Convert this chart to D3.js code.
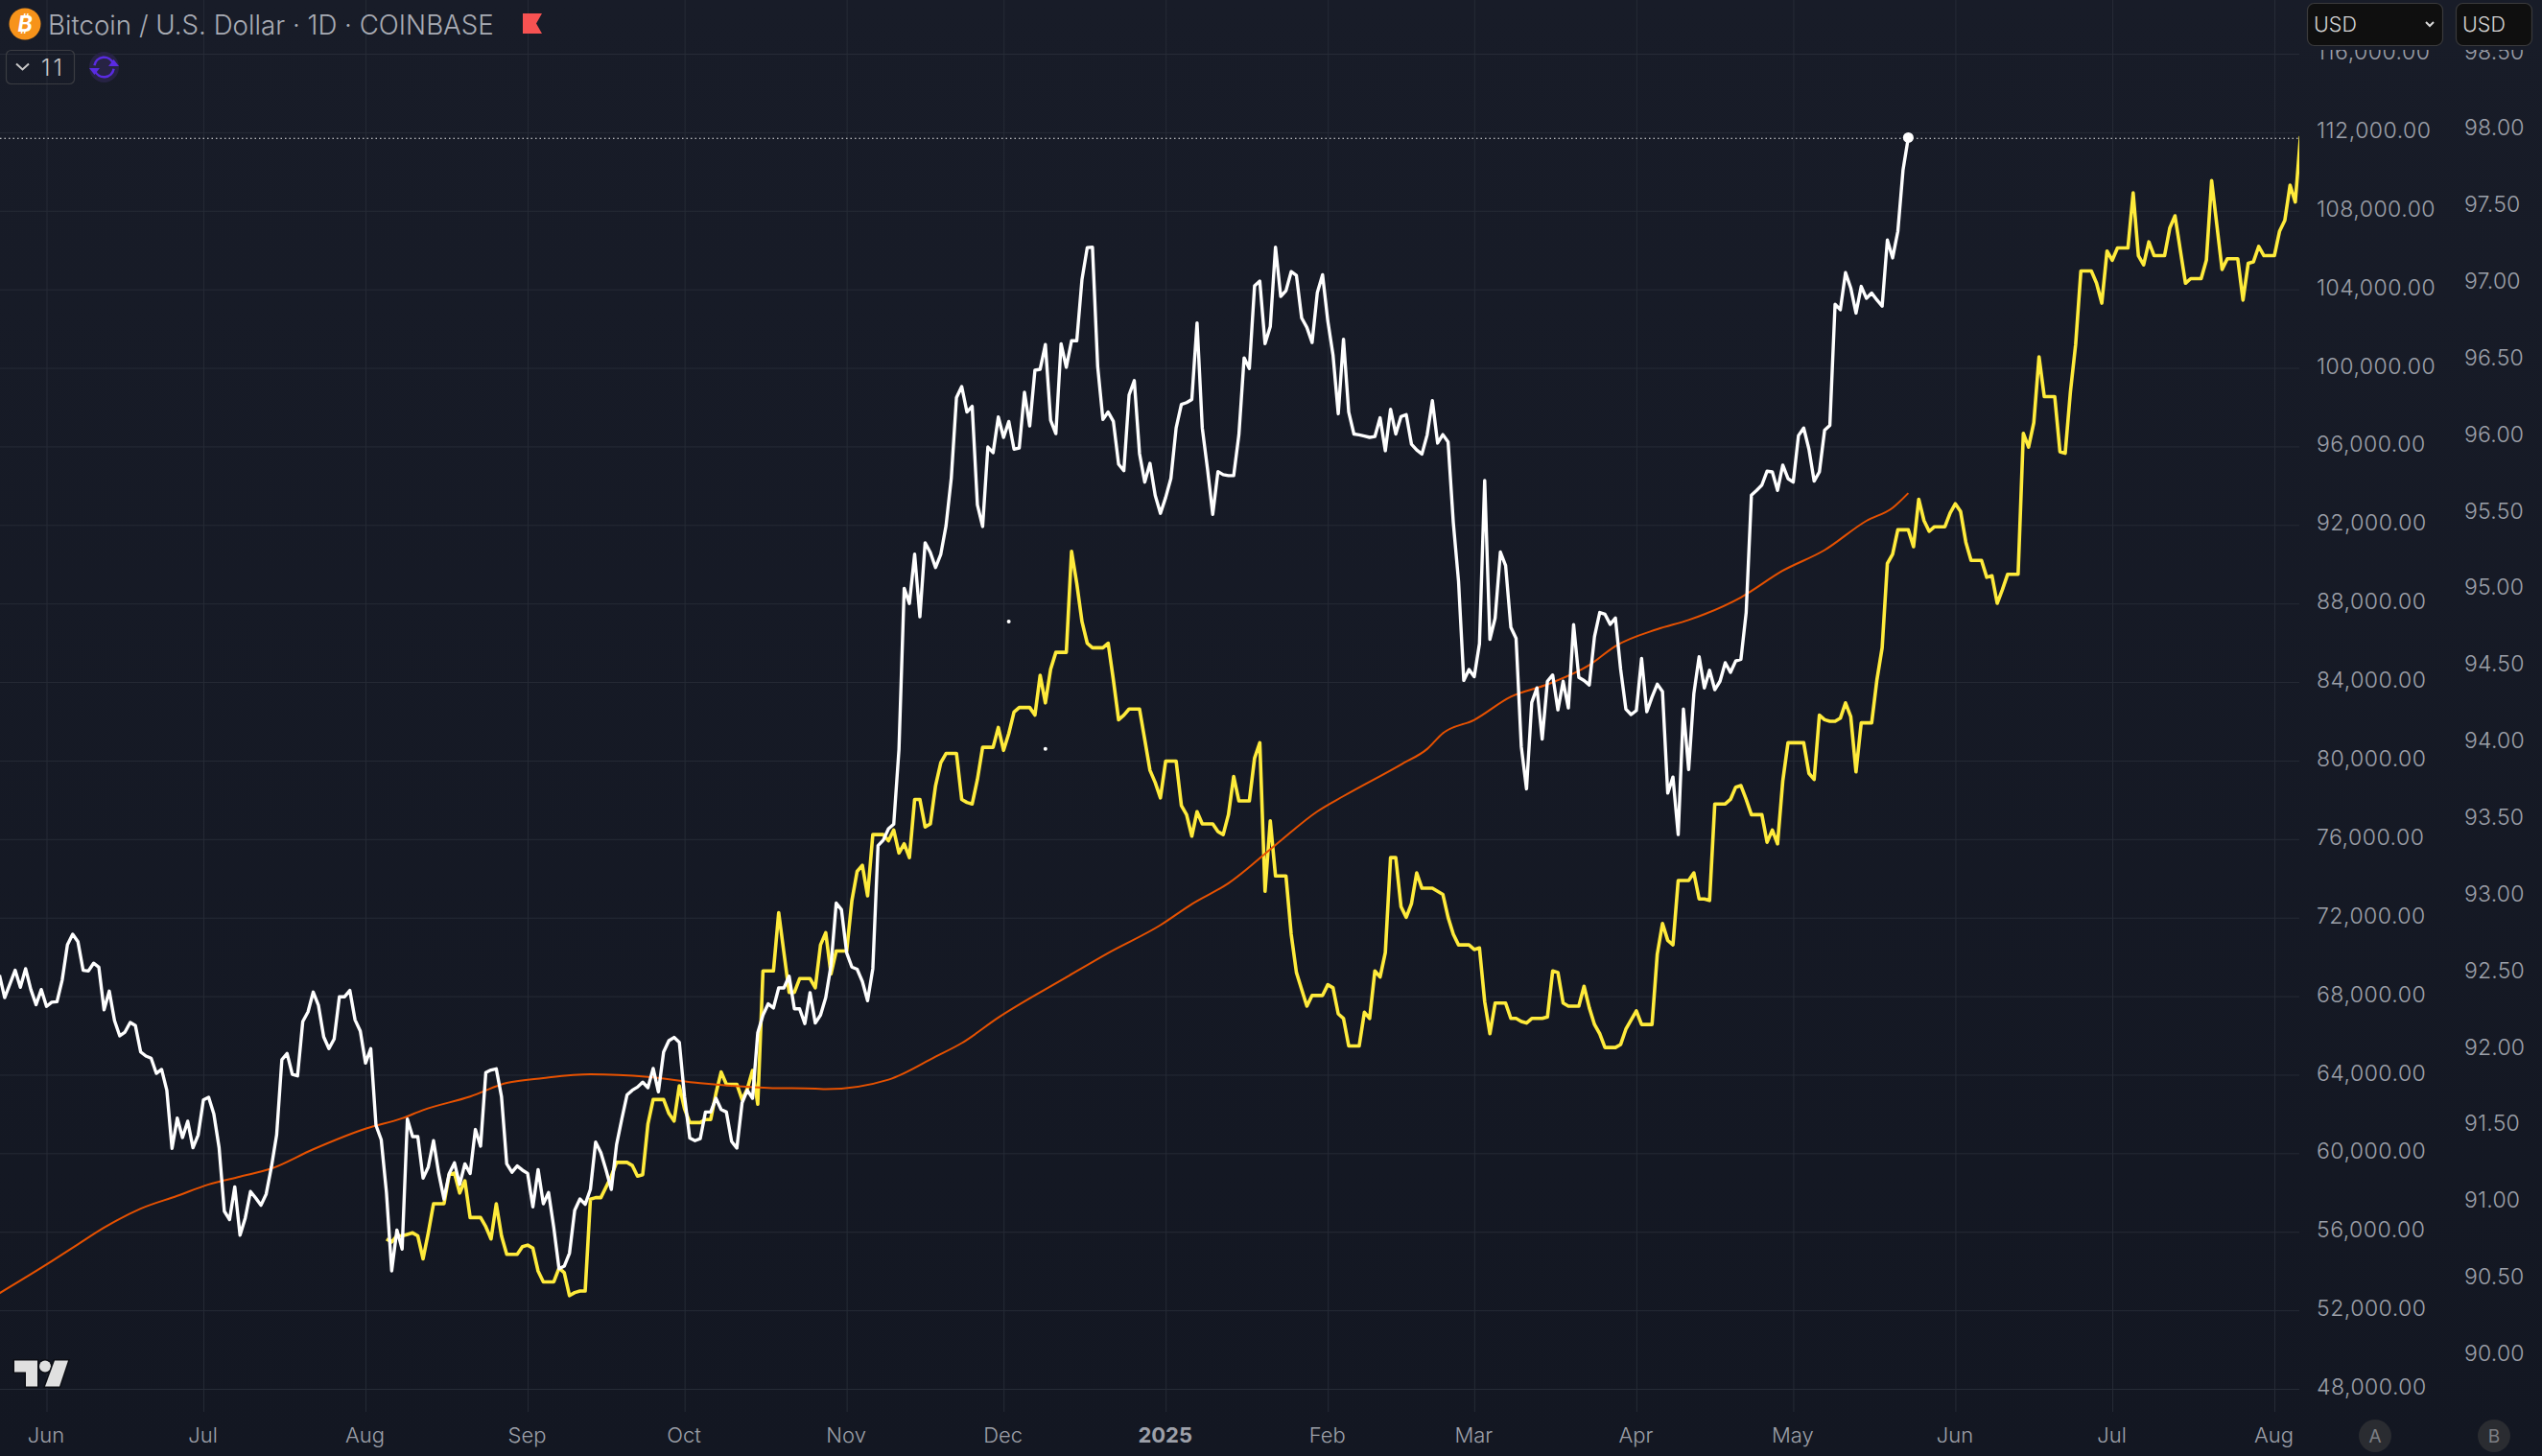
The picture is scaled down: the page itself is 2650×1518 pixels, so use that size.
<!DOCTYPE html>
<html>
<head>
<meta charset="utf-8">
<script src="https://cdn.jsdelivr.net/npm/d3@7"></script>
<style>
  html, body { margin: 0; padding: 0; background: #131722; }
  svg { display: block; }
  text { font-family: Inter, "Noto Sans", sans-serif; }
</style>
</head>
<body>
<div id="chart"></div>
<script>
// Data
//-------------------------------------------------------
// BTC daily close, in thousands of USD, in runs of consecutive days
var btcStarts = ["2024-05-23", "2024-10-27", "2024-11-11", "2025-02-23", "2025-05-11"];
var btcRunA = [69.07,67.93,68.62,69.32,68.45,69.40,68.34,67.57,68.34,67.48,67.69,67.72,68.83,70.62,71.16,70.78,69.32,69.28,69.68,69.48,
  67.31,68.26,66.76,65.98,66.17,66.66,66.50,65.16,64.95,64.84,64.07,64.27,63.21,60.25,61.79,60.80,61.63,60.28,60.93,62.72,
  62.85,61.99,60.28,57.05,56.62,58.29,55.83,56.70,58.05,57.72,57.35,57.92,59.30,60.93,64.76,65.08,64.02,63.94,66.71,67.20,
  68.21,67.53,65.93,65.33,65.82,67.97,67.97,68.29,66.79,66.22,64.59,65.33,61.42,60.69,58.00,54.01,56.09,55.12,61.74,60.85,
  60.85,58.73,59.30,60.64,58.97,57.67,58.97,59.51,58.41,59.46,58.97,61.21,60.36,64.11,64.24,64.30,62.88,59.46,59.03,59.35,
  59.14,58.97,57.27,59.17,57.43,58.00,56.21,54.12,54.25,54.91,57.10,57.67,57.40,58.16,60.57,60.03,59.14,58.16,60.44,61.74,
  62.97,63.21,63.37,63.62,63.34,64.32,63.13,65.16,65.73,65.90,65.65,62.88,60.77,60.64,60.74,62.10,62.10,62.80,62.23,62.10,
  60.60,60.26,62.56,63.21,62.80,66.14,67.04,67.61,67.40,68.42,68.42,69.02,67.36,67.36,66.60,68.18,66.63];
var btcRunB = [67.04,67.93,69.56,72.74,72.41,70.21,69.48,69.37,68.75,67.77,69.40,75.67,75.95,76.53,76.76];
var btcRunC = [80.56,88.77,88.00,90.51,87.32,91.09,90.60,89.83,90.51,91.96,94.37,98.49,99.05,97.75,98.04,93.02,91.92,95.97,95.68,97.50,
  96.46,97.27,95.86,95.92,98.76,97.04,99.88,99.93,101.19,97.33,96.65,101.23,100.03,101.38,101.38,104.51,106.12,106.15,100.07,97.37,
  97.75,97.27,95.09,94.76,98.62,99.35,95.63,94.18,95.14,93.50,92.59,93.40,94.37,96.94,98.14,98.23,98.39,102.29,96.94,94.85,
  92.54,94.72,94.56,94.51,94.51,96.59,100.51,99.97,104.18,104.42,101.23,102.10,106.15,103.64,103.93,104.90,104.71,102.54,102.06,101.29,
  103.84,104.74,102.39,100.65,97.66,101.46,97.75,96.63,96.59,96.53,96.46,96.50,97.46,95.78,97.89,96.63,97.52,97.62,96.11,95.82,
  95.61,96.59,98.33,96.17];
var btcRunD = [96.60,96.23,92.12,89.13,84.08,84.64,84.27,85.95,94.27,86.17,87.26,90.62,89.93,86.79,86.23,80.71,78.56,82.96,83.70,81.09,
  84.04,84.36,82.58,84.04,82.68,86.92,84.23,84.08,83.85,86.32,87.54,87.45,86.94,87.26,84.64,82.62,82.34,82.55,85.20,82.49,
  83.24,83.89,83.52,78.34,79.16,76.23,82.62,79.54,83.42,85.29,83.70,84.60,83.61,84.04,84.98,84.49,85.07,85.16,87.54,93.52,
  93.76,94.03,94.74,94.70,93.76,95.05,94.36,94.18,96.55,96.94,95.86,94.23,94.70,96.83,97.07,103.24,102.96];
var btcRunE = [104.85,104.07,102.79,104.15,103.54,103.81,103.46,103.14,106.51,105.60,106.95,110.09,111.73];
var btcRuns = [btcRunA, btcRunB, btcRunC, btcRunD, btcRunE];

// Second symbol on the B scale, plotted with its own time shift
var symStarts = ["2024-08-05", "2024-10-27", "2024-11-19", "2025-01-05", "2025-04-18", "2025-05-19"];
var symRunA = [90.75,90.73,90.77,90.77,90.78,90.79,90.77,90.62,90.79,90.98,90.98,90.98,91.17,91.18,91.05,91.13,90.89,90.89,90.89,90.83,
  90.75,90.98,90.77,90.65,90.65,90.65,90.70,90.71,90.69,90.54,90.47,90.47,90.47,90.56,90.53,90.38,90.40,90.41,90.41,91.01,
  91.02,91.02,91.09,91.16,91.25,91.25,91.25,91.23,91.16,91.17,91.50,91.66,91.66,91.66,91.57,91.52,91.75,91.60,91.51,91.51,
  91.51,91.53,91.53,91.70,91.84,91.76,91.76,91.76,91.66,91.73,91.85,91.63,92.50,92.50,92.50,92.88,92.62,92.36,92.36,92.45,
  92.45,92.45,92.39];
var symRunB = [92.67,92.75,92.48,92.63,92.63,92.63,92.96,93.15,93.19,92.99,93.39,93.39,93.39,93.35,93.42,93.27,93.33,93.24,93.62,93.62,
  93.44,93.46,93.71];
var symRunC = [93.86,93.92,93.92,93.92,93.62,93.60,93.59,93.75,93.96,93.96,93.96,94.09,93.94,94.05,94.19,94.22,94.22,94.22,94.17,94.43,
  94.25,94.47,94.58,94.58,94.58,95.24,95.03,94.78,94.64,94.61,94.61,94.61,94.64,94.40,94.14,94.17,94.21,94.21,94.21,94.01,
  93.81,93.73,93.63,93.87,93.87,93.87,93.58];
var symRunD = [93.52,93.38,93.54,93.46,93.46,93.46,93.41,93.39,93.52,93.77,93.61,93.61,93.61,93.89,93.99,93.02,93.48,93.12,93.12,93.12,
  92.74,92.49,92.38,92.27,92.34,92.34,92.34,92.41,92.39,92.22,92.19,92.01,92.01,92.01,92.23,92.19,92.50,92.46,92.62,93.24,
  93.24,92.92,92.85,92.94,93.14,93.04,93.04,93.04,93.02,93.00,92.85,92.74,92.67,92.67,92.67,92.64,92.65,92.30,92.09,92.29,
  92.29,92.29,92.19,92.19,92.17,92.16,92.19,92.19,92.19,92.20,92.50,92.49,92.29,92.27,92.27,92.27,92.40,92.26,92.15,92.09,
  92.00,92.00,92.00,92.02,92.12,92.18,92.24,92.15,92.15,92.15,92.61,92.81,92.70,92.67,93.09,93.09,93.09,93.14,92.97,92.97,
  92.96,93.59,93.59];
var symRunE = [93.59,93.62,93.70,93.71,93.62,93.52,93.52,93.52,93.34,93.42,93.33,93.74,93.99,93.99,93.99,93.99,93.79,93.75,94.17,94.14,
  94.13,94.13,94.15,94.25,94.16,93.80,94.12,94.12,94.12,94.40,94.61];
var symRunF = [95.16,95.22,95.38,95.38,95.38,95.27,95.58,95.44,95.37,95.40,95.40,95.40,95.49,95.55,95.50,95.30,95.18,95.18,95.18,95.07,
  95.08,94.90,94.99,95.09,95.09,95.09,96.01,95.92,96.08,96.51,96.25,96.25,96.25,95.89,95.88,96.28,96.59,97.07,97.07,97.07,
  96.99,96.86,97.20,97.14,97.22,97.22,97.22,97.58,97.17,97.11,97.26,97.17,97.17,97.17,97.35,97.43,97.21,96.99,97.02,97.02,
  97.02,97.14,97.66,97.37,97.08,97.15,97.15,97.15,96.88,97.12,97.13,97.23,97.17,97.17,97.17,97.33,97.40,97.63,97.52,97.95];
var symRuns = [symRunA, symRunB, symRunC, symRunD, symRunE, symRunF];

// Moving average on the A scale, days counted from 1 Jun 2024
var maDays = [-9,1,6,11,18,25,31,37,43,51,61,68,72,81,88,95,104,115,125,138,147,149,161,170,175,182,195,203,213,219,226,235,243,248,259,264,267,273,280,287,295,300,308,314,324,332,340,348,353,356];
var maValues = [52.87,54.50,55.36,56.21,57.18,57.83,58.41,58.81,59.22,60.20,61.25,61.78,62.20,62.89,63.58,63.83,64.02,63.89,63.57,63.33,63.29,63.26,63.75,64.92,65.61,66.91,68.96,70.20,71.62,72.69,73.75,75.70,77.41,78.19,79.80,80.59,81.39,82.07,83.25,83.88,84.86,85.83,86.69,87.16,88.31,89.67,90.72,92.21,92.87,93.62];

// Two stray dots left on the chart
var strayDays = [184, 191];
var strayValues = [87.08, 80.60];

var lastPrice = 111.69;

var priceTicks = d3.range(48, 117, 4);
var symbolTicks = d3.range(90, 98.51, 0.5);
var monthTicks = ["2024-06-01","2024-07-01","2024-08-01","2024-09-01","2024-10-01","2024-11-01","2024-12-01","2025-01-01","2025-02-01","2025-03-01","2025-04-01","2025-05-01","2025-06-01","2025-07-01","2025-08-01"];
var monthLabels = ["Jun","Jul","Aug","Sep","Oct","Nov","Dec","2025","Feb","Mar","Apr","May","Jun","Jul","Aug"];

// Set up SVG
//-------------------------------------------------------
var svgWidth = 2650;
var svgHeight = 1518;
var plotRight = 2397;
var plotBottom = 1472;

var svg = d3.select("#chart")
    .append("svg")
    .attr("width", svgWidth)
    .attr("height", svgHeight);

var defs = svg.append("defs");
var bgGradient = defs.append("linearGradient")
    .attr("id", "bg")
    .attr("x1", 0).attr("y1", 0).attr("x2", 0).attr("y2", 1);
bgGradient.append("stop").attr("offset", "0%").attr("stop-color", "#181c28");
bgGradient.append("stop").attr("offset", "100%").attr("stop-color", "#131722");

defs.append("clipPath").attr("id", "plot")
    .append("rect")
    .attr("x", 0).attr("y", 0)
    .attr("width", plotRight).attr("height", plotBottom);

svg.append("rect")
    .attr("width", svgWidth)
    .attr("height", svgHeight)
    .attr("fill", "url(#bg)");

// Scales
//-------------------------------------------------------
var parseDay = d3.utcParse("%Y-%m-%d");
var firstOfJune = parseDay("2024-06-01");

var xScale = d3.scaleUtc()
    .domain([firstOfJune, parseDay("2025-08-01")])
    .range([48.5, 2371]);
var yPrice = d3.scaleLinear().domain([48, 116]).range([1448, 56]);
var ySymbol = d3.scaleLinear().domain([90, 98]).range([1411.5, 134]);

function runsToPoints(starts, runs) {
    return runs.flatMap(function(run, r) {
        var start = parseDay(starts[r]);
        return run.map(function(v, i) {
            return { date: d3.utcDay.offset(start, i), value: v };
        });
    });
}

var btcData = runsToPoints(btcStarts, btcRuns);
var symData = runsToPoints(symStarts, symRuns);
var maData = maDays.map(function(d, i) {
    return { date: d3.utcDay.offset(firstOfJune, d), value: maValues[i] };
});
var strayData = strayDays.map(function(d, i) {
    return { date: d3.utcDay.offset(firstOfJune, d), value: strayValues[i] };
});

// Grid and axes
//-------------------------------------------------------
var gridColor = "#262b36";
var labelColor = "#9da0a9";

var xAxis = svg.append("g")
    .attr("transform", "translate(0," + plotBottom + ")")
    .call(d3.axisBottom(xScale)
        .tickValues(monthTicks.map(parseDay))
        .tickSize(-plotBottom)
        .tickPadding(16)
        .tickFormat(function(d, i) { return monthLabels[i]; }));
xAxis.select(".domain").remove();
xAxis.selectAll("line").attr("stroke", gridColor).attr("stroke-width", 1);
xAxis.selectAll("text")
    .attr("fill", labelColor)
    .attr("font-size", 22)
    .attr("dx", -1)
    .attr("font-weight", function(d, i) { return monthLabels[i] === "2025" ? 700 : 300; });

var priceAxis = svg.append("g")
    .attr("transform", "translate(" + plotRight + ",0)")
    .call(d3.axisRight(yPrice)
        .tickValues(priceTicks)
        .tickSize(-plotRight)
        .tickPadding(18)
        .tickFormat(function(d) { return d3.format(",.2f")(d * 1000); }));
priceAxis.select(".domain").remove();
priceAxis.selectAll("line").attr("stroke", gridColor).attr("stroke-width", 1);
priceAxis.selectAll("text")
    .attr("fill", labelColor)
    .attr("font-size", 23)
    .attr("font-weight", 300)
    .attr("letter-spacing", 0.5)
    .attr("dy", "0.24em");

var symbolAxis = svg.append("g")
    .attr("transform", "translate(2569,0)")
    .call(d3.axisRight(ySymbol)
        .tickValues(symbolTicks)
        .tickSize(0)
        .tickPadding(0)
        .tickFormat(d3.format(".2f")));
symbolAxis.select(".domain").remove();
symbolAxis.selectAll("text")
    .attr("fill", labelColor)
    .attr("font-size", 23)
    .attr("font-weight", 300)
    .attr("letter-spacing", 0.2)
    .attr("dy", "0.3em");

// Lines
//-------------------------------------------------------
var plot = svg.append("g").attr("clip-path", "url(#plot)");

var priceLine = d3.line()
    .x(function(d) { return xScale(d.date); })
    .y(function(d) { return yPrice(d.value); });
var symbolLine = d3.line()
    .x(function(d) { return xScale(d.date); })
    .y(function(d) { return ySymbol(d.value); });
var maLine = d3.line()
    .x(function(d) { return xScale(d.date); })
    .y(function(d) { return yPrice(d.value); })
    .curve(d3.curveMonotoneX);

plot.append("line")
    .attr("x1", 0).attr("x2", plotRight)
    .attr("y1", yPrice(lastPrice)).attr("y2", yPrice(lastPrice))
    .attr("stroke", "#e8e8e8")
    .attr("stroke-width", 1.2)
    .attr("stroke-dasharray", "1.5 3");

plot.append("path")
    .datum(symData)
    .attr("d", symbolLine)
    .attr("fill", "none")
    .attr("stroke", "#ffeb3b")
    .attr("stroke-width", 3.6)
    .attr("stroke-linejoin", "round");

plot.append("path")
    .datum(maData)
    .attr("d", maLine)
    .attr("fill", "none")
    .attr("stroke", "#e65100")
    .attr("stroke-width", 2);

plot.append("path")
    .datum(btcData)
    .attr("d", priceLine)
    .attr("fill", "none")
    .attr("stroke", "#ffffff")
    .attr("stroke-width", 3.4)
    .attr("stroke-linejoin", "round");

var lastBtc = btcData[btcData.length - 1];
plot.append("circle")
    .attr("cx", xScale(lastBtc.date))
    .attr("cy", yPrice(lastBtc.value))
    .attr("r", 5.5)
    .attr("fill", "#ffffff");

plot.selectAll(".stray")
    .data(strayData)
    .enter()
    .append("circle")
    .attr("class", "stray")
    .attr("cx", function(d) { return xScale(d.date); })
    .attr("cy", function(d) { return yPrice(d.value); })
    .attr("r", 2)
    .attr("fill", "#ffffff");

// Header
//-------------------------------------------------------
var header = svg.append("g");

header.append("circle").attr("cx", 26).attr("cy", 25).attr("r", 16.5).attr("fill", "#f7931a");
header.append("text")
    .attr("x", 26).attr("y", 33)
    .attr("text-anchor", "middle")
    .attr("font-size", 23)
    .attr("font-weight", 700)
    .attr("font-style", "italic")
    .attr("fill", "#ffffff")
    .text("₿");

header.append("text")
    .attr("x", 50).attr("y", 36)
    .attr("font-size", 27.7)
    .attr("font-weight", 300)
    .attr("fill", "#a9acb5")
    .text("Bitcoin / U.S. Dollar · 1D · COINBASE");

header.append("path")
    .attr("d", "M545,14H565L559,24.5L565,35H545Z")
    .attr("fill", "#f75252");

header.append("rect")
    .attr("x", 6.5).attr("y", 52.5)
    .attr("width", 71).attr("height", 35)
    .attr("rx", 5)
    .attr("fill", "none")
    .attr("stroke", "#3a3c42")
    .attr("stroke-width", 1.2);
header.append("path")
    .attr("d", "M17,66.5L23.5,72.5L30,66.5")
    .attr("fill", "none")
    .attr("stroke", "#c8c8c8")
    .attr("stroke-width", 2);
header.append("text")
    .attr("x", 43).attr("y", 79)
    .attr("font-size", 24)
    .attr("font-weight", 300)
    .attr("letter-spacing", 3)
    .attr("fill", "#c4c4c6")
    .text("11");

header.append("ellipse")
    .attr("cx", 108.5).attr("cy", 70)
    .attr("rx", 15.5).attr("ry", 16)
    .attr("fill", "#272344");
var syncArc = d3.arc().innerRadius(9).outerRadius(11.5);
header.append("path")
    .attr("transform", "translate(108.5,70)")
    .attr("d", syncArc({ startAngle: -1.4, endAngle: 1.2 }))
    .attr("fill", "#5a2be2");
header.append("path")
    .attr("transform", "translate(108.5,70)")
    .attr("d", syncArc({ startAngle: 1.75, endAngle: 4.35 }))
    .attr("fill", "#5a2be2");
header.append("path").attr("d", "M113,69H124L118.5,62Z").attr("fill", "#5a2be2");
header.append("path").attr("d", "M93,71H104L98.5,78Z").attr("fill", "#5a2be2");

// Band that cuts the top labels, then the currency boxes
var axisBand = svg.append("g");
axisBand.append("rect")
    .attr("x", plotRight + 1).attr("y", 0)
    .attr("width", svgWidth - plotRight).attr("height", 52)
    .attr("fill", "#181c28");

function currencyBox(x, width, withArrow) {
    axisBand.append("rect")
        .attr("x", x + 0.5).attr("y", 3.5)
        .attr("width", width).attr("height", 44)
        .attr("rx", 7)
        .attr("fill", "#0f0f0f")
        .attr("stroke", "#3a3a3c")
        .attr("stroke-width", 1.2);
    axisBand.append("text")
        .attr("x", x + 7).attr("y", 33)
        .attr("font-size", 21.5)
        .attr("font-weight", 300)
        .attr("fill", "#d4d4d4")
        .text("USD");
    if (withArrow) {
        axisBand.append("path")
            .attr("d", "M" + (x + width - 17) + ",23L" + (x + width - 13) + ",27L" + (x + width - 9) + ",23")
            .attr("fill", "none")
            .attr("stroke", "#d8d8d8")
            .attr("stroke-width", 2);
    }
}
currencyBox(2405, 141, true);
currencyBox(2560, 79, false);

// Scale badges
//-------------------------------------------------------
[["A", 2476], ["B", 2600]].forEach(function(badge) {
    svg.append("circle")
        .attr("cx", badge[1]).attr("cy", 1497)
        .attr("r", 17)
        .attr("fill", "#2a2c31");
    svg.append("text")
        .attr("x", badge[1]).attr("y", 1504)
        .attr("text-anchor", "middle")
        .attr("font-size", 19)
        .attr("fill", "#7d7f84")
        .text(badge[0]);
});

// Logo
//-------------------------------------------------------
var logo = svg.append("g")
    .attr("transform", "translate(0,-1.5)")
    .attr("fill", "#e0e0e0")
    .attr("stroke", "#0c0e14")
    .attr("stroke-width", 3)
    .attr("paint-order", "stroke");
logo.append("path").attr("d", "M15,1420H39V1447H27V1432H15Z");
logo.append("circle").attr("cx", 47).attr("cy", 1426).attr("r", 6);
logo.append("path").attr("d", "M57,1420H71L62,1447H47Z");
</script>
</body>
</html>
